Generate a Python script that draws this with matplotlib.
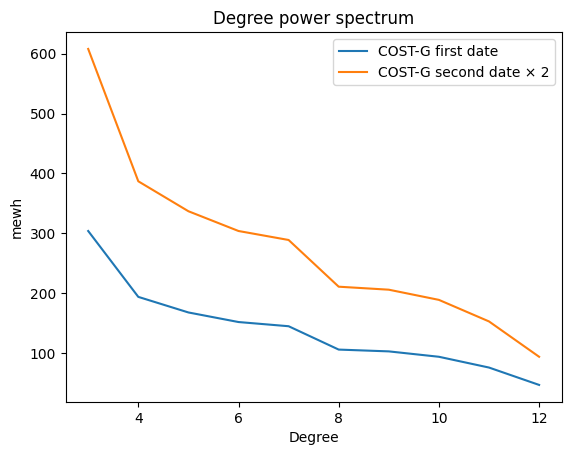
import matplotlib
matplotlib.use("Agg")
import matplotlib.pyplot as plt

degrees = [3, 4, 5, 6, 7, 8, 9, 10, 11, 12]
first_date = [304, 194, 168, 152, 145, 106, 103, 94, 76, 47]
second_date_x2 = [608, 387, 337, 304, 289, 211, 206, 189, 153, 94]

fig, ax = plt.subplots(figsize=(6.4, 4.8), dpi=100)
ax.plot(degrees, first_date, label="COST-G first date")
ax.plot(degrees, second_date_x2, label="COST-G second date \u00d7 2")
ax.set_title("Degree power spectrum")
ax.set_xlabel("Degree")
ax.set_ylabel("mewh")
ax.legend()
fig.savefig("out.png", bbox_inches="tight")
